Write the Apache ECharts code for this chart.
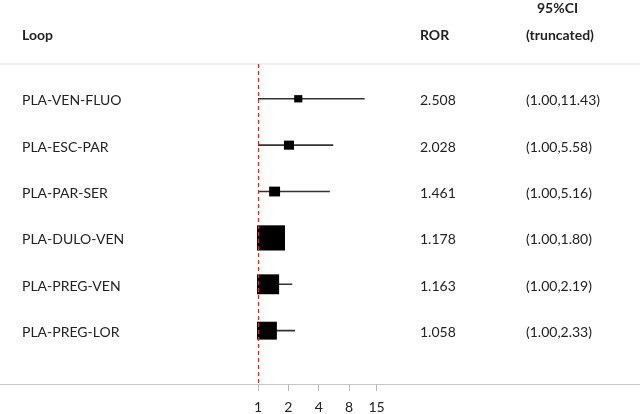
<!DOCTYPE html>
<html>
<head>
<meta charset="utf-8">
<script src="https://cdn.jsdelivr.net/npm/echarts@6/dist/echarts.min.js"></script>
<style>
  html, body { margin: 0; padding: 0; background: #fff; }
  #chart { width: 640px; height: 414px; }
</style>
</head>
<body>
<div id="chart"></div>
<script>
// forest plot data
var loops = ['PLA-VEN-FLUO', 'PLA-ESC-PAR', 'PLA-PAR-SER', 'PLA-DULO-VEN', 'PLA-PREG-VEN', 'PLA-PREG-LOR'];
var ror = [2.508, 2.028, 1.461, 1.178, 1.163, 1.058];
var ciLow = [1.00, 1.00, 1.00, 1.00, 1.00, 1.00];
var ciHigh = [11.43, 5.58, 5.16, 1.80, 2.19, 2.33];
var weight = [2.9, 3.6, 3.9, 10.0, 7.9, 7.1];   // box weight
var tickValues = [1, 2, 4, 8, 15];

var font = 'Lato, "Open Sans", sans-serif';
var chartBox = document.getElementById('chart');
var myChart = echarts.init(chartBox);

var markData = ror.map(function (v, i) {
	return [v, ciLow[i], ciHigh[i], weight[i], i];
});
var rowData = loops.map(function (name, i) {
	return [1, i];
});

var option = {
	backgroundColor: '#fff',
	animation: false,
	textStyle: { fontFamily: font },
	grid: { left: 0, right: 0, top: 64, bottom: 30 },
	xAxis: [{
		type: 'log',
		logBase: 2,
		// 1 sits at x=258, ~30.35px per doubling
		min: Math.pow(2, -258 / 30.35),
		max: Math.pow(2, 382 / 30.35),
		axisLine: { onZero: false, lineStyle: { color: '#c8c8c8', width: 1.2 } },
		axisTick: { customValues: tickValues, length: 7, lineStyle: { color: '#bbb' } },
		axisLabel: { customValues: tickValues, color: '#222', fontSize: 14, margin: 16, fontFamily: font },
		splitLine: { show: false },
		minorTick: { show: false }
	}, {
		type: 'value',
		position: 'top',
		axisLine: { onZero: false, lineStyle: { color: '#ececec', width: 1.5 } },
		axisTick: { show: false },
		axisLabel: { show: false },
		splitLine: { show: false }
	}],
	yAxis: {
		type: 'value',
		inverse: true,
		min: -0.75,
		max: 6.15,
		show: false
	},
	graphic: [
		{ type: 'text', left: 22, top: 28, style: { text: 'Loop', font: 'bold 14px ' + font, fill: '#222' } },
		{ type: 'text', left: 420, top: 28, style: { text: 'ROR', font: 'bold 14px ' + font, fill: '#222' } },
		{ type: 'text', left: 537, top: 1, style: { text: '95%CI', font: 'bold 14px ' + font, fill: '#222' } },
		{ type: 'text', left: 526, top: 28, style: { text: '(truncated)', font: 'bold 14px ' + font, fill: '#222' } }
	],
	series: [{
		// CI whiskers + boxes
		type: 'custom',
		xAxisIndex: 0,
		encode: { x: [0, 1, 2], y: 4 },
		data: markData,
		silent: true,
		renderItem: function (params, api) {
			var row = api.value(4);
			var c = api.coord([api.value(0), row]);
			var lo = api.coord([api.value(1), row]);
			var hi = api.coord([api.value(2), row]);
			var one = api.coord([1, row]);
			var w = api.value(3) * 2.8;
			var h = w * 0.9;
			var x0 = Math.max(c[0] - w / 2, one[0] - 1);
			return {
				type: 'group',
				children: [{
					type: 'line',
					shape: { x1: lo[0], y1: lo[1], x2: hi[0], y2: hi[1] },
					style: { stroke: '#333', lineWidth: 1.6 }
				}, {
					type: 'rect',
					shape: { x: x0, y: c[1] - h / 2, width: w, height: h },
					style: { fill: '#000' }
				}]
			};
		},
		markLine: {
			silent: true,
			symbol: ['none', 'none'],
			label: { show: false },
			lineStyle: { color: '#c0392b', type: [4, 3], width: 1.2 },
			data: [{ xAxis: 1 }]
		},
		z: 3
	}, {
		// table text columns
		type: 'custom',
		xAxisIndex: 0,
		encode: { x: 0, y: 1 },
		data: rowData,
		silent: true,
		renderItem: function (params, api) {
			var i = params.dataIndex;
			var y = api.coord([1, api.value(1)])[1] + 2;
			var st = { font: '14px ' + font, fill: '#222', textVerticalAlign: 'middle' };
			return {
				type: 'group',
				children: [
					{ type: 'text', style: Object.assign({ x: 22, y: y, text: loops[i] }, st) },
					{ type: 'text', style: Object.assign({ x: 420, y: y, text: ror[i].toFixed(3) }, st) },
					{ type: 'text', style: Object.assign({ x: 526, y: y, text: '(' + ciLow[i].toFixed(2) + ',' + ciHigh[i].toFixed(2) + ')' }, st) }
				]
			};
		}
	}]
};
myChart.setOption(option);
</script>
</body>
</html>
